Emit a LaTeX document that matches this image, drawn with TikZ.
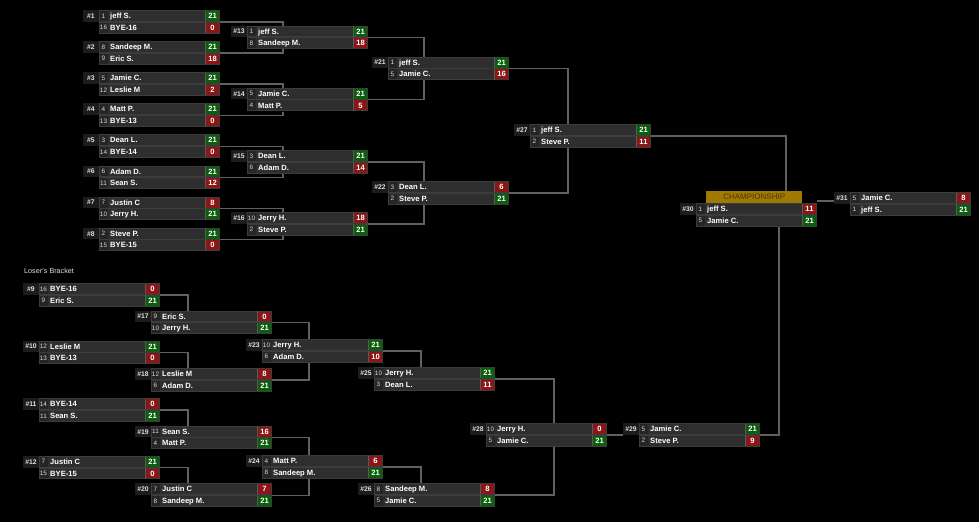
\documentclass[tikz,border=0pt]{standalone}
\usepackage{fontspec}
\setmainfont{Liberation Sans}
\usetikzlibrary{backgrounds}
\definecolor{labbg}{HTML}{1C1C1C}
\definecolor{seedbg}{HTML}{252525}
\definecolor{namebg}{HTML}{2E2E2E}
\definecolor{cellline}{HTML}{3C3C3C}
\definecolor{stripec}{HTML}{5A5A5A}
\definecolor{winc}{HTML}{0B5E0B}
\definecolor{lossc}{HTML}{8A1616}
\definecolor{connc}{HTML}{616161}
\definecolor{champbg}{HTML}{A07A00}
\definecolor{champtx}{HTML}{4A3800}
\def\rh{11.7}
\tikzset{
  nametxt/.style={anchor=west, inner sep=0pt, text=white, font=\bfseries\fontsize{7.6}{8}\selectfont, text height=5.4pt, text depth=0pt},
  scoretxt/.style={anchor=center, inner sep=0pt, text=white, font=\bfseries\fontsize{7.6}{8}\selectfont, text height=5.4pt, text depth=0pt},
  seedtxt/.style={anchor=center, inner sep=0pt, text=white!85!black, font=\fontsize{6.4}{7}\selectfont, text height=4.5pt, text depth=0pt},
  labbox/.style={anchor=center, inner sep=0pt, fill=labbg, minimum width=16pt, minimum height=11.7pt, text=white!88!black, font=\bfseries\fontsize{6.8}{7}\selectfont, text height=4.9pt, text depth=0pt},
  bodybox/.style={anchor=north west, inner sep=0pt, minimum width=121pt, minimum height=23.4pt, draw=none},
  conn/.style={draw=connc, line width=1.4pt},
  cellb/.style={draw=cellline, line width=0.8pt},
  champbox/.style={anchor=north west, inner sep=0pt, fill=champbg, minimum width=96pt, minimum height=12pt, text=champtx, font=\fontsize{8}{9}\selectfont},
}
% one row of a match
\newcommand\mrow[7]{%
  \fill[seedbg] (#2,#3) rectangle ++(9,\rh);
  \fill[namebg] (#2+9,#3) rectangle ++(97,\rh);
  \fill[fill=#7] (#2+106,#3) rectangle ++(15,\rh);
  \draw[cellb] (#2+0.4,#3+0.4) rectangle (#2+120.6,#3+\rh-0.4);
  \draw[stripec, line width=1pt] (#2+106.5,#3+0.5) -- (#2+106.5,#3+\rh-0.5);
  \node[seedtxt] (s#1) at (#2+4.5,#3+\rh/2) {#4};
  \node[nametxt] (n#1) at (#2+11,#3+\rh/2) {#5};
  \node[scoretxt] (p#1) at (#2+113.5,#3+\rh/2) {#6};
}
% a match: id, x, y, seed1, name1, score1, seed2, name2, score2
\newcommand\mt[9]{%
  \ifnum#6>#9\relax\def\ca{winc}\def\cb{lossc}\else\def\ca{lossc}\def\cb{winc}\fi
  \node[labbox] (l#1) at (#2-8,#3+\rh/2) {\##1};
  \mrow{#1a}{#2}{#3}{#4}{#5}{#6}{\ca}
  \mrow{#1b}{#2}{#3+\rh}{#7}{#8}{#9}{\cb}
  \node[bodybox] (m#1) at (#2,#3) {};
}
\begin{document}
\begin{tikzpicture}[x=1pt,y=-1pt]
\useasboundingbox (0,0) rectangle (979,522);
\begin{pgfonlayer}{background}
\fill[black] (0,0) rectangle (979,522);
\end{pgfonlayer}

% winners bracket
\mt{1}{99}{10}{1}{jeff S.}{21}{16}{BYE-16}{0}
\mt{2}{99}{41.1}{8}{Sandeep M.}{21}{9}{Eric S.}{18}
\mt{3}{99}{72.2}{5}{Jamie C.}{21}{12}{Leslie M}{2}
\mt{4}{99}{103.3}{4}{Matt P.}{21}{13}{BYE-13}{0}
\mt{5}{99}{134.4}{3}{Dean L.}{21}{14}{BYE-14}{0}
\mt{6}{99}{165.5}{6}{Adam D.}{21}{11}{Sean S.}{12}
\mt{7}{99}{196.6}{7}{Justin C}{8}{10}{Jerry H.}{21}
\mt{8}{99}{227.7}{2}{Steve P.}{21}{15}{BYE-15}{0}
\mt{13}{247}{25.55}{1}{jeff S.}{21}{8}{Sandeep M.}{18}
\mt{14}{247}{87.75}{5}{Jamie C.}{21}{4}{Matt P.}{5}
\mt{15}{247}{149.95}{3}{Dean L.}{21}{6}{Adam D.}{14}
\mt{16}{247}{212.15}{10}{Jerry H.}{18}{2}{Steve P.}{21}
\mt{21}{388}{56.65}{1}{jeff S.}{21}{5}{Jamie C.}{16}
\mt{22}{388}{181.05}{3}{Dean L.}{6}{2}{Steve P.}{21}
\mt{27}{530}{124}{1}{jeff S.}{21}{2}{Steve P.}{11}
\node[champbox] (champ) at (706,191) {CHAMPIONSHIP};
\mt{30}{696}{203}{1}{jeff S.}{11}{5}{Jamie C.}{21}
\mt{31}{850}{192}{5}{Jamie C.}{8}{1}{jeff S.}{21}

% losers bracket
\node[anchor=west, inner sep=0pt, text=white!88!black, font=\fontsize{7.2}{8}\selectfont] (lbt) at (24,271) {Loser's Bracket};
\mt{9}{39}{283}{16}{BYE-16}{0}{9}{Eric S.}{21}
\mt{10}{39}{340.6}{12}{Leslie M}{21}{13}{BYE-13}{0}
\mt{11}{39}{398.2}{14}{BYE-14}{0}{11}{Sean S.}{21}
\mt{12}{39}{455.8}{7}{Justin C}{21}{15}{BYE-15}{0}
\mt{17}{151}{310.5}{9}{Eric S.}{0}{10}{Jerry H.}{21}
\mt{18}{151}{368.1}{12}{Leslie M}{8}{6}{Adam D.}{21}
\mt{19}{151}{425.7}{11}{Sean S.}{16}{4}{Matt P.}{21}
\mt{20}{151}{483.3}{7}{Justin C}{7}{8}{Sandeep M.}{21}
\mt{23}{262}{339}{10}{Jerry H.}{21}{6}{Adam D.}{10}
\mt{24}{262}{455}{4}{Matt P.}{6}{8}{Sandeep M.}{21}
\mt{25}{374}{367}{10}{Jerry H.}{21}{3}{Dean L.}{11}
\mt{26}{374}{483}{8}{Sandeep M.}{8}{5}{Jamie C.}{21}
\mt{28}{486}{423}{10}{Jerry H.}{0}{5}{Jamie C.}{21}
\mt{29}{639}{423}{5}{Jamie C.}{21}{2}{Steve P.}{9}

% connectors, behind the boxes
\begin{pgfonlayer}{background}
\draw[conn] (m1.east) -| ([xshift=36pt]m13.north west);
\draw[conn] (m2.east) -| ([xshift=36pt]m13.south west);
\draw[conn] (m3.east) -| ([xshift=36pt]m14.north west);
\draw[conn] (m4.east) -| ([xshift=36pt]m14.south west);
\draw[conn] (m5.east) -| ([xshift=36pt]m15.north west);
\draw[conn] (m6.east) -| ([xshift=36pt]m15.south west);
\draw[conn] (m7.east) -| ([xshift=36pt]m16.north west);
\draw[conn] (m8.east) -| ([xshift=36pt]m16.south west);
\draw[conn] (m13.east) -| ([xshift=36pt]m21.north west);
\draw[conn] (m14.east) -| ([xshift=36pt]m21.south west);
\draw[conn] (m15.east) -| ([xshift=36pt]m22.north west);
\draw[conn] (m16.east) -| ([xshift=36pt]m22.south west);
\draw[conn] (m21.east) -| ([xshift=38pt]m27.north west);
\draw[conn] (m22.east) -| ([xshift=38pt]m27.south west);
\draw[conn] (m27.east) -| ([xshift=80pt]champ.north west);
\draw[conn] (m29.east) -| ([xshift=83pt]m30.south west);
\draw[conn] ([yshift=2pt]m30.north east) -- ([yshift=2pt]m30.north east -| l31.west);
\draw[conn] (m9.east) -| ([xshift=37pt]m17.north west);
\draw[conn] (m10.east) -| ([xshift=37pt]m18.north west);
\draw[conn] (m11.east) -| ([xshift=37pt]m19.north west);
\draw[conn] (m12.east) -| ([xshift=37pt]m20.north west);
\draw[conn] (m17.east) -| ([xshift=47pt]m23.north west);
\draw[conn] (m18.east) -| ([xshift=47pt]m23.south west);
\draw[conn] (m19.east) -| ([xshift=47pt]m24.north west);
\draw[conn] (m20.east) -| ([xshift=47pt]m24.south west);
\draw[conn] (m23.east) -| ([xshift=47pt]m25.north west);
\draw[conn] (m24.east) -| ([xshift=47pt]m26.north west);
\draw[conn] (m25.east) -| ([xshift=68pt]m28.north west);
\draw[conn] (m26.east) -| ([xshift=68pt]m28.south west);
\draw[conn] (m28.east) -- (m28.east -| l29.west);
\end{pgfonlayer}
\end{tikzpicture}
\end{document}
